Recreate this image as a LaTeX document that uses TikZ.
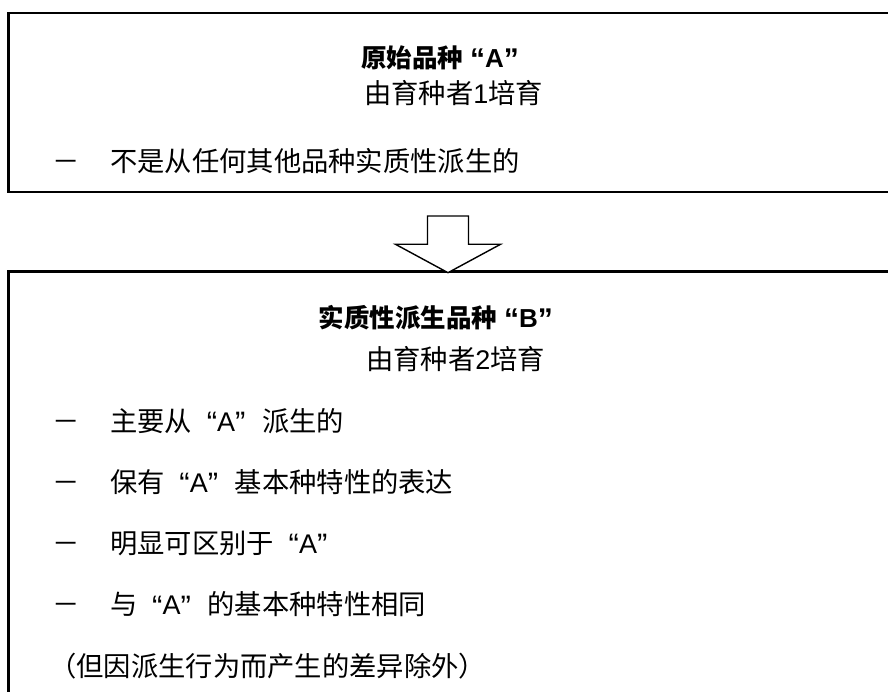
\documentclass[tikz,border=0pt]{standalone}
\usepackage{fontspec}
\newfontfamily\cjk{Noto Sans CJK SC}
\newfontfamily\lat{Liberation Sans}
\newcommand{\qa}[1]{{\lat\fontsize{27}{30}\selectfont\makebox[25pt][r]{\fontsize{31}{33}\selectfont\raisebox{-2.5pt}{“}}#1\makebox[27pt][l]{\fontsize{31}{33}\selectfont\raisebox{-2.5pt}{”}}}}
\newcommand{\qb}[1]{{\lat\bfseries\fontsize{26}{29}\selectfont\makebox[22pt][r]{\fontsize{30}{32}\selectfont\raisebox{-2.5pt}{“}}#1\makebox[24pt][l]{\fontsize{30}{32}\selectfont\raisebox{-2.5pt}{”}}}}
\newcommand{\dg}[1]{{\lat\fontsize{27}{30}\selectfont #1}}
\tikzset{
  body/.style={inner sep=0pt, anchor=base west, font=\cjk\fontsize{27.3}{30}\selectfont},
  ttl/.style={inner sep=0pt, anchor=base west, font=\cjk\bfseries\fontsize{25.5}{28}\selectfont},
  frame/.style={line width=2.4pt},
  blockarrow/.style={line width=1.4pt, fill=white, line join=miter}
}
\begin{document}
\begin{tikzpicture}[x=1pt,y=1pt]
\useasboundingbox (0,0) rectangle (888,691);
\fill[white] (0,0) rectangle (888,691);
% frames
\draw[frame] (900,678) -- (8.5,678) -- (8.5,499) -- (900,499);
\draw[frame] (900,419.3) -- (8.5,419.3) -- (8.5,-10);
% block arrow
\draw[blockarrow] (427.5,475) -- (468.5,475) -- (468.5,446.7) -- (500.5,446.7)
  -- (448,418.3) -- (395.5,446.7) -- (427.5,446.7) -- cycle;
% top box text
\node[ttl] (t1) at (361,623.5) {原始品种\qb{A}};
\node[body] (s1) at (364,587) {由育种者\dg{1}培育};
\node[body] (d1) at (52,519.2) {－};
\node[body] (l1) at (110,519.2) {不是从任何其他品种实质性派生的};
% bottom box text
\node[ttl] (t2) at (318.5,363.5) {实质性派生品种\qb{B}};
\node[body] (s2) at (366,321) {由育种者\dg{2}培育};
\node[body] (d2) at (52,259.9) {－};
\node[body] (m1) at (110,259.9) {主要从\qa{A}派生的};
\node[body] (d3) at (52,198.9) {－};
\node[body] (m2) at (110,198.9) {保有\qa{A}基本种特性的表达};
\node[body] (d4) at (52,137.9) {－};
\node[body] (m3) at (110,137.9) {明显可区别于\qa{A}};
\node[body] (d5) at (52,76.4) {－};
\node[body] (m4) at (110,76.4) {与\qa{A}的基本种特性相同};
\node[body] (m5) at (49,14.2) {（但因派生行为而产生的差异除外）};
\end{tikzpicture}
\end{document}
